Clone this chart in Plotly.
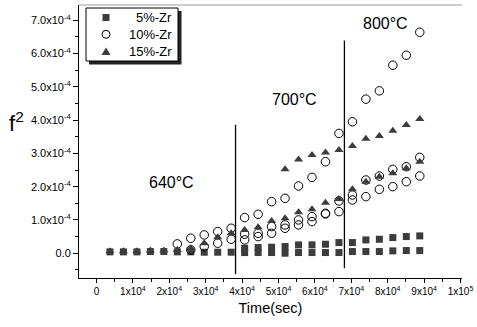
import plotly.graph_objects as go

# ---------------- data ----------------
# sample times (s)
t_all = [3700, 7400, 11100, 14800, 18500, 22200, 25900, 29600, 33300, 37000,
         40700, 44400, 48100, 51800, 55500, 59200, 62900, 66600, 70300, 74000,
         77700, 81400, 85100, 88800]

# 5%-Zr (squares), values in units of 1e-4
zr5_low_t = t_all
zr5_low = [0.04, 0.04, 0.04, 0.05, 0.05, 0.04, 0.04, 0.03, 0.03, 0.03,
           0.02, 0.02, 0.02, 0.0, 0.02, 0.02, 0.02, 0.02, 0.05, 0.05,
           0.05, 0.07, 0.08, 0.08]
zr5_up_t = t_all[10:]
zr5_up = [0.15, 0.17, 0.18, 0.2, 0.25, 0.25, 0.27, 0.32, 0.32, 0.4,
          0.42, 0.47, 0.5, 0.52]

# 10%-Zr (open circles)
zr10_a_t = t_all[5:]
zr10_a = [0.28, 0.45, 0.55, 0.65, 0.75, 1.07, 1.17, 1.55, 1.65, 2.02,
          2.28, 2.75, 3.6, 3.95, 4.63, 4.88, 5.65, 5.95, 6.64]
zr10_b_t = t_all[10:]
zr10_b = [0.57, 0.6, 0.8, 0.85, 1.0, 1.1, 1.2, 1.57, 1.75, 2.2,
          2.32, 2.52, 2.6, 2.88]
zr10_c_t = t_all[6:]
zr10_c = [0.1, 0.2, 0.3, 0.42, 0.4, 0.5, 0.6, 0.75, 0.85, 0.95,
          1.18, 1.25, 1.6, 1.7, 1.92, 2.0, 2.15, 2.32]

# 15%-Zr (filled triangles)
zr15_low_t = t_all
zr15_low = [0.06, 0.06, 0.06, 0.08, 0.08, 0.1, 0.15, 0.3, 0.48, 0.6,
            0.7, 0.78, 0.97, 1.05, 1.23, 1.32, 1.52, 1.63, 1.92, 2.15,
            2.3, 2.4, 2.55, 2.75]
zr15_up_t = t_all[13:]
zr15_up = [2.52, 2.82, 2.95, 3.03, 3.1, 3.22, 3.44, 3.52, 3.68, 3.85, 4.03]

series_names = ["5%-Zr", "10%-Zr", "15%-Zr"]

# temperature boundaries and labels
boundary_t = [38200, 68100]
boundary_ylo = [-0.63, -0.45]
boundary_yhi = [3.86, 6.39]
temp_labels = ["640°C", "700°C", "800°C"]
temp_label_t = [20700, 54500, 79300]
temp_label_y = [2.14, 4.63, 6.89]

x_tickvals = [0, 10000, 20000, 30000, 40000, 50000, 60000, 70000, 80000, 90000, 100000]
x_ticktext = ["0", "1x10<sup>4</sup>", "2x10<sup>4</sup>", "3x10<sup>4</sup>", "4x10<sup>4</sup>",
              "5x10<sup>4</sup>", "6x10<sup>4</sup>", "7x10<sup>4</sup>", "8x10<sup>4</sup>",
              "9x10<sup>4</sup>", "1x10<sup>5</sup>"]
y_tickvals = [0, 1, 2, 3, 4, 5, 6, 7]
y_ticktext = ["0.0", "1.0x10<sup>-4</sup>", "2.0x10<sup>-4</sup>", "3.0x10<sup>-4</sup>",
              "4.0x10<sup>-4</sup>", "5.0x10<sup>-4</sup>", "6.0x10<sup>-4</sup>",
              "7.0x10<sup>-4</sup>"]

# ---------------- layout helpers ----------------
SCALE = 1e-4
FONT = "Liberation Sans, Arial, sans-serif"
DARK = "#3c3c3c"
W, H = 477, 327
ML, MR, MT, MB = 79, 15, 5, 49
PW, PH = W - ML - MR, H - MT - MB


def sc(v):
    return [a * SCALE for a in v]


def px(x):
    return (x - ML) / PW


def py(y):
    return 1 - (y - MT) / PH


fig = go.Figure()

fig.add_trace(go.Scatter(
    x=zr5_low_t + zr5_up_t, y=sc(zr5_low + zr5_up), mode="markers",
    name=series_names[0], showlegend=False,
    marker=dict(symbol="square", size=7, color=DARK, line=dict(width=0))))
fig.add_trace(go.Scatter(
    x=zr10_a_t + zr10_b_t + zr10_c_t, y=sc(zr10_a + zr10_b + zr10_c), mode="markers",
    name=series_names[1], showlegend=False,
    marker=dict(symbol="circle-open", size=8.5, color="black", line=dict(width=1))))
fig.add_trace(go.Scatter(
    x=zr15_low_t + zr15_up_t, y=sc(zr15_low + zr15_up), mode="markers",
    name=series_names[2], showlegend=False,
    marker=dict(symbol="triangle-up", size=8, color=DARK, line=dict(width=0))))

shapes = []
for bt, lo, hi in zip(boundary_t, boundary_ylo, boundary_yhi):
    shapes.append(dict(type="line", xref="x", yref="y", x0=bt, x1=bt,
                       y0=lo * SCALE, y1=hi * SCALE, line=dict(color="black", width=1.3)))
# faint top frame line
shapes.append(dict(type="line", xref="paper", yref="paper", x0=0, x1=1, y0=1, y1=1,
                   line=dict(color="#9a9a9a", width=1)))

# ---- legend box (drawn manually: shadow + framed box) ----
shapes.append(dict(type="rect", xref="paper", yref="paper",
                   x0=px(89), x1=px(181.5), y0=py(64.5), y1=py(11),
                   line=dict(width=0), fillcolor="#222222", layer="above"))
shapes.append(dict(type="rect", xref="paper", yref="paper",
                   x0=px(86), x1=px(178), y0=py(61), y1=py(8),
                   line=dict(width=1, color="black"), fillcolor="white", layer="above"))
leg_rows = [17.5, 34.3, 51.5]
sym_x = 106
# square
shapes.append(dict(type="rect", xref="paper", yref="paper", xsizemode="pixel", ysizemode="pixel",
                   xanchor=px(sym_x), yanchor=py(leg_rows[0]), x0=-3.5, x1=3.5, y0=-3.5, y1=3.5,
                   line=dict(width=0), fillcolor=DARK, layer="above"))
# circle
shapes.append(dict(type="circle", xref="paper", yref="paper", xsizemode="pixel", ysizemode="pixel",
                   xanchor=px(sym_x), yanchor=py(leg_rows[1]), x0=-4, x1=4, y0=-4, y1=4,
                   line=dict(width=1, color="black"), fillcolor="white", layer="above"))
# triangle
shapes.append(dict(type="path", xref="paper", yref="paper", xsizemode="pixel", ysizemode="pixel",
                   xanchor=px(sym_x), yanchor=py(leg_rows[2]),
                   path="M -4.5,-3.5 L 4.5,-3.5 L 0,4 Z",
                   line=dict(width=0), fillcolor=DARK, layer="above"))

annotations = []
for name, ry in zip(series_names, leg_rows):
    annotations.append(dict(x=px(174), y=py(ry), xref="paper", yref="paper",
                            xanchor="right", yanchor="middle", text=name, showarrow=False,
                            font=dict(size=13, family=FONT, color="black")))
for txt, tx, ty in zip(temp_labels, temp_label_t, temp_label_y):
    annotations.append(dict(x=tx, y=ty * SCALE, xref="x", yref="y", text=txt,
                            xanchor="center", yanchor="middle",
                            showarrow=False, font=dict(size=16, family=FONT, color="black")))
annotations.append(dict(x=px(16), y=py(122), xref="paper", yref="paper",
                        xanchor="center", yanchor="middle",
                        text="f<sup>2</sup>", showarrow=False,
                        font=dict(size=22, family=FONT, color="black")))

fig.update_layout(
    width=W, height=H,
    margin=dict(l=ML, r=MR, t=MT, b=MB, autoexpand=False),
    paper_bgcolor="white", plot_bgcolor="white",
    font=dict(family=FONT, color="black", size=10),
    showlegend=False,
    shapes=shapes,
    annotations=annotations,
)

fig.update_xaxes(
    range=[-4800, 100400], showgrid=False, zeroline=False, automargin=False,
    showline=True, linecolor="black", linewidth=1,
    ticks="outside", ticklen=4, tickwidth=1, tickcolor="black",
    tickmode="array", tickvals=x_tickvals, ticktext=x_ticktext,
    tickfont=dict(size=10, family=FONT),
    minor=dict(ticks="outside", ticklen=3, tickwidth=1, tickcolor="black",
               tickmode="linear", tick0=0, dtick=5000),
    title=dict(text="Time(sec)", font=dict(size=14.5, family=FONT), standoff=6),
)
fig.update_yaxes(
    range=[-0.745 * SCALE, 7.46 * SCALE], showgrid=False, zeroline=False, automargin=False,
    showline=True, linecolor="black", linewidth=1,
    ticks="outside", ticklen=5, tickwidth=1, tickcolor="black",
    tickmode="array", tickvals=sc(y_tickvals), ticktext=y_ticktext,
    tickfont=dict(size=11, family=FONT),
    minor=dict(ticks="outside", ticklen=3, tickwidth=1, tickcolor="black",
               tickmode="linear", tick0=0, dtick=0.5 * SCALE),
)

fig.write_html(
    "out.html",
    config={"displayModeBar": False},
    post_script="document.body.style.margin='0px';document.body.style.padding='0px';",
)
